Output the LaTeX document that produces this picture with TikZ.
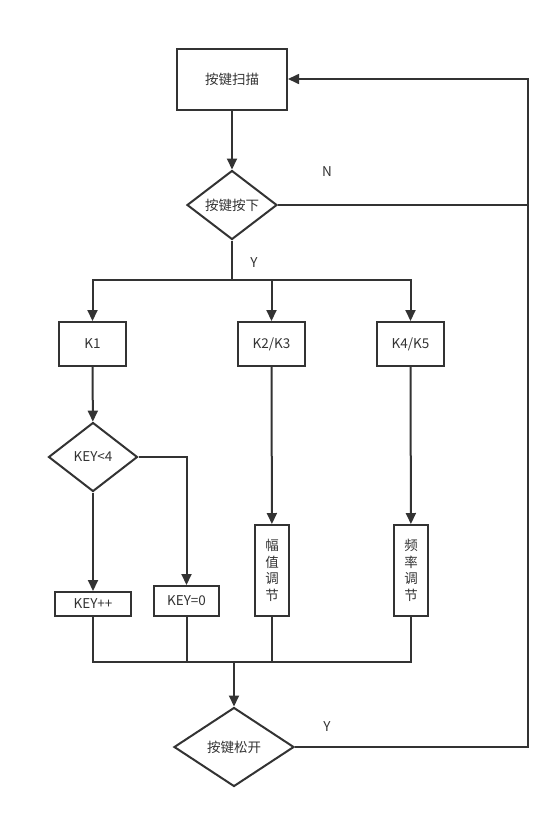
\documentclass[tikz,border=0pt]{standalone}
\usepackage{fontspec}
\newfontfamily\cjk{Noto Sans CJK SC}
\usepackage{tikz}
\usetikzlibrary{arrows.meta,shapes.geometric,calc}
\definecolor{ink}{HTML}{333333}

\begin{document}
\begin{tikzpicture}[
    x=1pt,y=-1pt,
    every node/.style={font=\cjk\fontsize{13.5}{16.5}\selectfont,text=ink},
    box/.style={draw=ink,line width=2pt,inner sep=0pt,align=center},
    dec/.style={draw=ink,line width=2pt,diamond,inner sep=0pt},
    flow/.style={draw=ink,line width=2pt},
    back/.style={draw=ink,line width=1.6pt},
    arr/.style={flow,-{Triangle[length=11pt,width=10pt]}}
  ]
  \useasboundingbox (0,0) rectangle (560,820);

  \node[box,minimum width=110pt,minimum height=61pt] (scan) at (232,79) {按键扫描};
  \node[dec,minimum width=90pt,minimum height=69pt] (press) at (232,205) {按键按下};
  \node[box,minimum width=67pt,minimum height=44pt] (k1) at (92.5,344) {K1};
  \node[box,minimum width=67pt,minimum height=44pt] (k23) at (271.5,344) {K2/K3};
  \node[box,minimum width=67pt,minimum height=44pt] (k45) at (410.5,344) {K4/K5};
  \node[dec,minimum width=89pt,minimum height=69pt] (cmp) at (93,457) {KEY<4};
  \node[box,minimum width=76pt,minimum height=24pt] (inc) at (93,604) {KEY++};
  \node[box,minimum width=65pt,minimum height=30pt] (clr) at (186.5,601) {KEY=0};
  \node[box,minimum width=34pt,minimum height=91pt] (amp) at (272,570.5) {幅\\值\\调\\节};
  \node[box,minimum width=34pt,minimum height=91pt] (freq) at (411,570.5) {频\\率\\调\\节};
  \node[dec,minimum width=120pt,minimum height=79pt] (release) at (234,747) {按键松开};

  \node (no) at (327,172) {N};
  \node (yes) at (254,263) {Y};
  \node (yes2) at (327,727) {Y};

  \coordinate (split) at (232,280);
  \coordinate (merge) at (234,662);
  \coordinate (loop) at (528,79);

  \draw[arr] (scan) -- (press);
  \draw[flow] (press) -- (split);
  \draw[arr] (split) -| (k1);
  \draw[arr] (split) -| (k23);
  \draw[arr] (split) -| (k45);
  \draw[arr] (k1) -- (cmp);
  \draw[arr] (cmp) -- (inc);
  \draw[arr] (cmp) -| (clr);
  \draw[arr] (k23) -- (amp);
  \draw[arr] (k45) -- (freq);
  \draw[flow] (inc) |- (merge);
  \draw[flow] (clr) |- (merge);
  \draw[flow] (amp) |- (merge);
  \draw[flow] (freq) |- (merge);
  \draw[arr] (merge) -- (release);
  \draw[back] (press) -- (press -| loop);
  \draw[back,-{Triangle[length=11pt,width=10pt]}] (release) -| (loop) -- (scan);
\end{tikzpicture}
\end{document}
